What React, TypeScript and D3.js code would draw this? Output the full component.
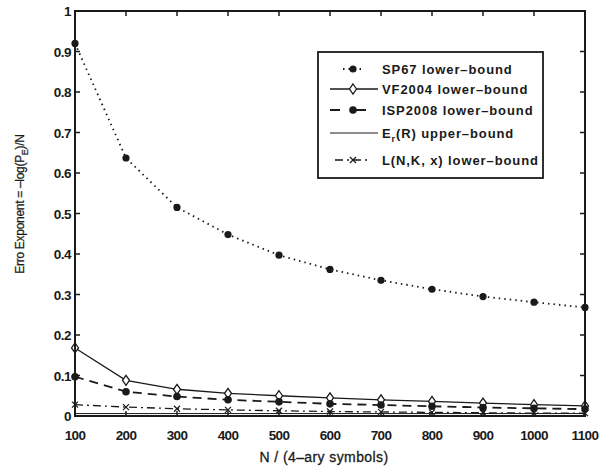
import React from "react";
import * as d3 from "d3";

const N = [100, 200, 300, 400, 500, 600, 700, 800, 900, 1000, 1100];
const sp67 = [0.92, 0.637, 0.515, 0.448, 0.397, 0.362, 0.335, 0.313, 0.295, 0.281, 0.268];
const vf2004 = [0.168, 0.088, 0.066, 0.056, 0.05, 0.045, 0.04, 0.036, 0.032, 0.028, 0.025];
const isp2008 = [0.097, 0.06, 0.048, 0.04, 0.035, 0.03, 0.027, 0.024, 0.021, 0.019, 0.017];
const erUpper = [0.006, 0.006, 0.006, 0.006, 0.006, 0.006, 0.006, 0.006, 0.006, 0.006, 0.006];
const lBound = [0.028, 0.022, 0.018, 0.015, 0.013, 0.011, 0.01, 0.009, 0.008, 0.007, 0.007];
const xTicks = [100, 200, 300, 400, 500, 600, 700, 800, 900, 1000, 1100];
const yTicks = [0, 0.1, 0.2, 0.3, 0.4, 0.5, 0.6, 0.7, 0.8, 0.9, 1];
const legendLabels = ["SP67 lower\u2013bound", "VF2004 lower\u2013bound", "ISP2008 lower\u2013bound", "E_r(R) upper\u2013bound", "L(N,K, x) lower\u2013bound"];

const W = 599, H = 471;
const L = 75, R = 585, T = 11, B = 416;
const INK = "#1a1a1a";
const FONT = "'Liberation Sans', Arial, sans-serif";

function Marker({ kind, x, y }: { kind: string; x: number; y: number }) {
  if (kind === "dot") return <circle cx={x} cy={y} r={3.6} fill={INK} />;
  if (kind === "star") return <circle cx={x} cy={y} r={3.8} fill={INK} />;
  if (kind === "diamond")
    return <path d={`M${x},${y - 5} L${x + 3.5},${y} L${x},${y + 5} L${x - 3.5},${y} Z`} fill="white" stroke={INK} strokeWidth={1.3} />;
  if (kind === "x")
    return <path d={`M${x - 3},${y - 3} L${x + 3},${y + 3} M${x - 3},${y + 3} L${x + 3},${y - 3}`} stroke={INK} strokeWidth={1.2} />;
  return null;
}

export default function App() {
  const x = d3.scaleLinear().domain([100, 1100]).range([L, R]);
  const y = d3.scaleLinear().domain([0, 1]).range([B, T]);
  const line = d3.line<[number, number]>().x((d) => x(d[0])).y((d) => y(d[1]));
  const series = [
    { vals: sp67, dash: "1.5 4", w: 1.8, marker: "dot", leg: [343, 362] },
    { vals: vf2004, dash: "", w: 1.3, marker: "diamond", leg: [330, 378] },
    { vals: isp2008, dash: "10 16", w: 1.8, marker: "star", leg: [330, 376] },
    { vals: erUpper, dash: "", w: 1.0, marker: "", leg: [330, 378] },
    { vals: lBound, dash: "8 4 2 4", w: 1.3, marker: "x", leg: [335, 371] },
  ];
  const legX = 318, legY = 52, legW = 225, legH = 126;
  const rowY = [69, 89, 110, 133, 160];
  return (
    <svg width={W} height={H} style={{ position: "absolute", left: 0, top: 0, background: "white" }} fontFamily={FONT}>
      <rect x={0} y={0} width={W} height={H} fill="white" />
      {series.map((s, i) => (
        <g key={i}>
          <path d={line(N.map((n, j) => [n, s.vals[j]]))!} fill="none" stroke={INK} strokeWidth={s.w} strokeDasharray={i === 2 ? "9 6" : s.dash || undefined} />
          {s.marker && N.map((n, j) => <Marker key={j} kind={s.marker} x={x(n)} y={y(s.vals[j])} />)}
        </g>
      ))}
      <rect x={L} y={T} width={R - L} height={B - T} fill="none" stroke={INK} strokeWidth={2} />
      {xTicks.map((t) => (
        <g key={t}>
          <line x1={x(t)} x2={x(t)} y1={B} y2={B - 5} stroke={INK} strokeWidth={1.5} />
          <line x1={x(t)} x2={x(t)} y1={T} y2={T + 5} stroke={INK} strokeWidth={1.5} />
          <text x={x(t)} y={B + 24} textAnchor="middle" fontSize={13.5} fontWeight="bold" fill={INK} letterSpacing={-0.6}>{t}</text>
        </g>
      ))}
      {yTicks.map((t) => (
        <g key={t}>
          <line x1={L} x2={L + 5} y1={y(t)} y2={y(t)} stroke={INK} strokeWidth={1.5} />
          <line x1={R} x2={R - 5} y1={y(t)} y2={y(t)} stroke={INK} strokeWidth={1.5} />
          <text x={L - 4} y={y(t) + 5} textAnchor="end" fontSize={13.5} fontWeight="bold" fill={INK} letterSpacing={-0.5}>{d3.format("~g")(t)}</text>
        </g>
      ))}
      <text x={324} y={462} textAnchor="middle" fontSize={14} fill={INK} stroke={INK} strokeWidth={0.3} letterSpacing={0.4}>N / (4–ary symbols)</text>
      <text transform={`translate(24,204) rotate(-90)`} textAnchor="middle" fontSize={12} fill={INK} stroke={INK} strokeWidth={0.25} letterSpacing={-0.3}>
        Erro Exponent = –log(P<tspan fontSize={9} dy={4}>E</tspan><tspan dy={-4}>)/N</tspan>
      </text>
      <rect x={legX} y={legY} width={legW} height={legH} fill="white" stroke={INK} strokeWidth={1.8} />
      {series.map((s, i) => (
        <g key={i}>
          <line x1={s.leg[0]} x2={s.leg[1]} y1={rowY[i]} y2={rowY[i]} stroke={INK} strokeWidth={s.w} strokeDasharray={s.dash || undefined} />
          {s.marker && <Marker kind={s.marker} x={353} y={rowY[i]} />}
          <text x={382} y={rowY[i] + 5} fontSize={13} fontWeight="bold" fill={INK} letterSpacing={0.9}>
            {i === 3 ? (
              <>E<tspan fontSize={9} dy={4}>r</tspan><tspan dy={-4}>(R) upper–bound</tspan></>
            ) : legendLabels[i]}
          </text>
        </g>
      ))}
    </svg>
  );
}
